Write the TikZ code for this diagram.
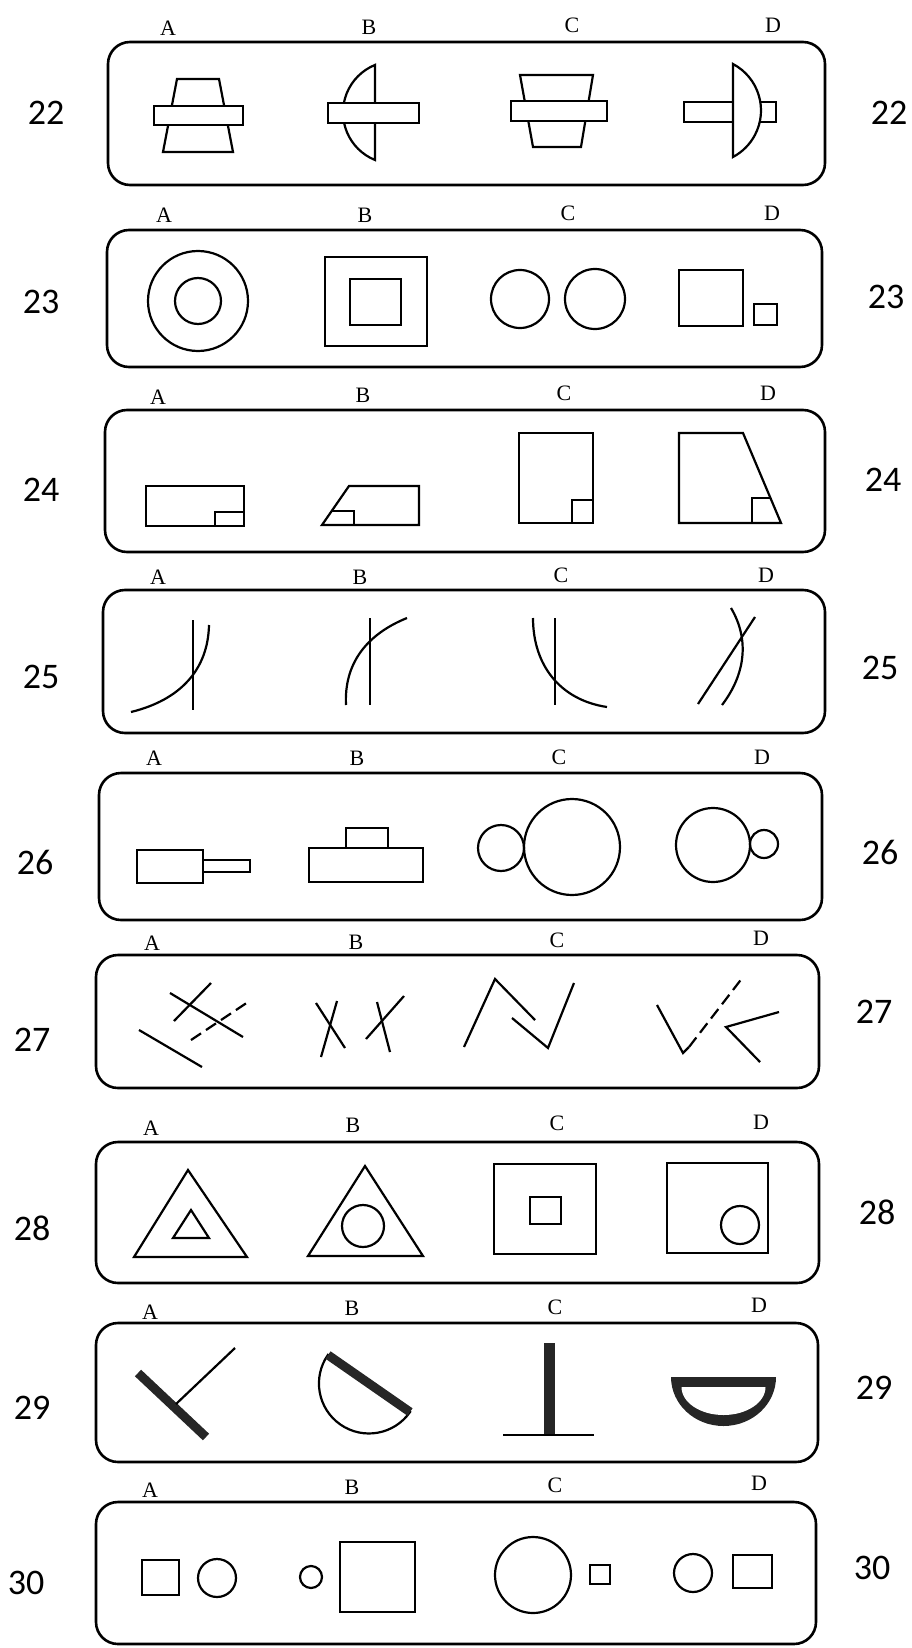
\documentclass[tikz,border=0pt]{standalone}
\usepackage{fontspec}
\newfontfamily\numfont{Carlito}
\newfontfamily\lblfont{Liberation Serif}
\begin{document}
\begin{tikzpicture}[x=0.5pt,y=-0.5pt,
  qbox/.style={draw,line width=1.3pt,rounded corners=11pt},
  fig/.style={line width=1.1pt},
  heavy/.style={line width=4.5pt,draw=black!85},
  dsh/.style={line width=1.1pt,dash pattern=on 6pt off 3pt},
  lbl/.style={font=\lblfont\fontsize{11}{13}\selectfont,inner sep=0pt},
  num/.style={font=\numfont\fontsize{18}{20}\selectfont,inner sep=0pt}
]
\useasboundingbox (0,0) rectangle (911,1648);

% ---------- frames ----------
\draw[qbox] (108,42) rectangle (825,185);
\draw[qbox] (107,230) rectangle (822,367);
\draw[qbox] (105,410) rectangle (825,552);
\draw[qbox] (103,590) rectangle (825,733);
\draw[qbox] (99,773) rectangle (822,920);
\draw[qbox] (96,955) rectangle (819,1088);
\draw[qbox] (96,1142) rectangle (819,1283);
\draw[qbox] (96,1323) rectangle (818,1462);
\draw[qbox] (96,1502) rectangle (816,1644);

% ---------- letter labels ----------
\node[lbl] (a22) at (168,28) {A}; \node[lbl] (b22) at (369,27) {B}; \node[lbl] (c22) at (572,25) {C}; \node[lbl] (d22) at (773,25) {D};
\node[lbl] (a23) at (164,215) {A}; \node[lbl] (b23) at (365,215) {B}; \node[lbl] (c23) at (568,213) {C}; \node[lbl] (d23) at (772,213) {D};
\node[lbl] (a24) at (158,397) {A}; \node[lbl] (b24) at (363,395) {B}; \node[lbl] (c24) at (564,393) {C}; \node[lbl] (d24) at (768,393) {D};
\node[lbl] (a25) at (158,577) {A}; \node[lbl] (b25) at (360,577) {B}; \node[lbl] (c25) at (561,575) {C}; \node[lbl] (d25) at (766,575) {D};
\node[lbl] (a26) at (154,758) {A}; \node[lbl] (b26) at (357,758) {B}; \node[lbl] (c26) at (559,757) {C}; \node[lbl] (d26) at (762,757) {D};
\node[lbl] (a27) at (152,943) {A}; \node[lbl] (b27) at (356,942) {B}; \node[lbl] (c27) at (557,940) {C}; \node[lbl] (d27) at (761,938) {D};
\node[lbl] (a28) at (151,1128) {A}; \node[lbl] (b28) at (353,1125) {B}; \node[lbl] (c28) at (557,1123) {C}; \node[lbl] (d28) at (761,1122) {D};
\node[lbl] (a29) at (150,1312) {A}; \node[lbl] (b29) at (352,1308) {B}; \node[lbl] (c29) at (555,1307) {C}; \node[lbl] (d29) at (759,1305) {D};
\node[lbl] (a30) at (150,1490) {A}; \node[lbl] (b30) at (352,1487) {B}; \node[lbl] (c30) at (555,1485) {C}; \node[lbl] (d30) at (759,1483) {D};

% ---------- question numbers ----------
\node[num] (n22l) at (46,113) {22};  \node[num] (n22r) at (889,113) {22};
\node[num] (n23l) at (41,302) {23};  \node[num] (n23r) at (886,297) {23};
\node[num] (n24l) at (41,490) {24};  \node[num] (n24r) at (883,480) {24};
\node[num] (n25l) at (41,677) {25};  \node[num] (n25r) at (880,668) {25};
\node[num] (n26l) at (35,862) {26};  \node[num] (n26r) at (880,852) {26};
\node[num] (n27l) at (32,1040) {27}; \node[num] (n27r) at (874,1012) {27};
\node[num] (n28l) at (32,1228) {28}; \node[num] (n28r) at (877,1212) {28};
\node[num] (n29l) at (32,1408) {29}; \node[num] (n29r) at (874,1388) {29};
\node[num] (n30l) at (26,1583) {30}; \node[num] (n30r) at (872,1568) {30};

% ---------- row 22 ----------
\draw[fig] (177,79) -- (219,79) -- (233,152) -- (163,152) -- cycle;
\draw[fig,fill=white] (154,106) rectangle (243,125);
\draw[fig] (375,160) arc[start angle=112.1,end angle=247.9,radius=51.3] -- cycle;
\draw[fig,fill=white] (328,103) rectangle (419,123);
\draw[fig] (520,75) -- (593,75) -- (581,147) -- (533,147) -- cycle;
\draw[fig,fill=white] (511,101) rectangle (607,121);
\draw[fig] (684,102) rectangle (776,122);
\draw[fig,fill=white] (733,64) arc[start angle=-62.1,end angle=62.1,radius=52.6] -- cycle;

% ---------- row 23 ----------
\draw[fig] (198,301) circle[radius=50];
\draw[fig] (198,301) circle[radius=23];
\draw[fig] (325,257) rectangle (427,346);
\draw[fig] (350,279) rectangle (401,325);
\draw[fig] (520,299) circle[radius=29];
\draw[fig] (595,299) circle[radius=30];
\draw[fig] (679,270) rectangle (743,326);
\draw[fig] (754,304) rectangle (777,325);

% ---------- row 24 ----------
\draw[fig] (146,486) rectangle (244,526);
\draw[fig] (215,526) -- (215,512) -- (244,512);
\draw[fig] (349,486) -- (419,486) -- (419,525) -- (322,525) -- cycle;
\draw[fig] (332,511) -- (354,511) -- (354,525);
\draw[fig] (519,433) rectangle (593,523);
\draw[fig] (572,523) -- (572,500) -- (593,500);
\draw[fig] (679,433) -- (743,433) -- (781,523) -- (679,523) -- cycle;
\draw[fig] (752,523) -- (752,498) -- (770,498);

% ---------- row 25 ----------
\draw[fig] (193,620) -- (193,710);
\draw[fig] (131,712) .. controls (180,700) and (208,670) .. (209,625);
\draw[fig] (370,618) -- (370,705);
\draw[fig] (346,705) .. controls (344,665) and (365,635) .. (407,618);
\draw[fig] (555,618) -- (555,705);
\draw[fig] (533,618) .. controls (533,665) and (560,700) .. (607,707);
\draw[fig] (698,704) -- (755,617);
\draw[fig] (731,608) .. controls (750,640) and (745,675) .. (722,705);

% ---------- row 26 ----------
\draw[fig] (137,850) rectangle (203,883);
\draw[fig] (203,860) rectangle (250,872);
\draw[fig] (309,848) rectangle (423,882);
\draw[fig] (346,848) -- (346,828) -- (388,828) -- (388,848);
\draw[fig] (572,847) circle[radius=48];
\draw[fig] (501,848) circle[radius=23];
\draw[fig] (713,845) circle[radius=37];
\draw[fig] (764,844) circle[radius=14];

% ---------- row 27 ----------
\draw[fig] (170,993) -- (243,1037);
\draw[fig] (174,1021) -- (211,983);
\draw[dsh] (191,1040) -- (248,1002);
\draw[fig] (139,1030) -- (202,1067);
\draw[fig] (316,1003) -- (345,1048);
\draw[fig] (337,1001) -- (321,1057);
\draw[fig] (366,1039) -- (404,996);
\draw[fig] (377,1002) -- (390,1052);
\draw[fig] (464,1047) -- (495,979) -- (535,1020);
\draw[fig] (512,1018) -- (548,1048) -- (574,983);
\draw[fig] (657,1005) -- (683,1053) -- (689,1047);
\draw[dsh] (689,1047) -- (743,977);
\draw[fig] (779,1012) -- (726,1027) -- (760,1062);

% ---------- row 28 ----------
\draw[fig] (188,1170) -- (247,1257) -- (134,1257) -- cycle;
\draw[fig] (191,1210) -- (209,1238) -- (173,1238) -- cycle;
\draw[fig] (365,1166) -- (423,1256) -- (308,1256) -- cycle;
\draw[fig] (363,1226) circle[radius=21];
\draw[fig] (494,1164) rectangle (596,1254);
\draw[fig] (530,1197) rectangle (561,1224);
\draw[fig] (667,1163) rectangle (768,1253);
\draw[fig] (740,1225) circle[radius=19];

% ---------- row 29 ----------
\draw[heavy] (138,1373) -- (206,1437);
\draw[fig] (176,1404) -- (235,1348);
\draw[fig,fill=white] (410,1412) arc[start angle=34.8,end angle=214.8,radius=50] -- cycle;
\draw[heavy] (328,1355) -- (410,1412);
\draw[heavy,line width=5.5pt] (549,1343) -- (549,1435);
\draw[fig] (503,1435) -- (594,1435);
\fill[black!85] (671,1377) -- (776,1377) arc[start angle=0,end angle=180,x radius=52.5,y radius=49] -- cycle;
\fill[white] (765.5,1387) arc[start angle=0,end angle=180,x radius=42,y radius=28] -- cycle;

% ---------- row 30 ----------
\draw[fig] (142,1560) rectangle (179,1595);
\draw[fig] (217,1578) circle[radius=19];
\draw[fig] (311,1577) circle[radius=11];
\draw[fig] (340,1542) rectangle (415,1612);
\draw[fig] (533,1575) circle[radius=38];
\draw[fig] (590,1565) rectangle (610,1584);
\draw[fig] (693,1573) circle[radius=19];
\draw[fig] (733,1555) rectangle (772,1588);
\end{tikzpicture}
\end{document}
